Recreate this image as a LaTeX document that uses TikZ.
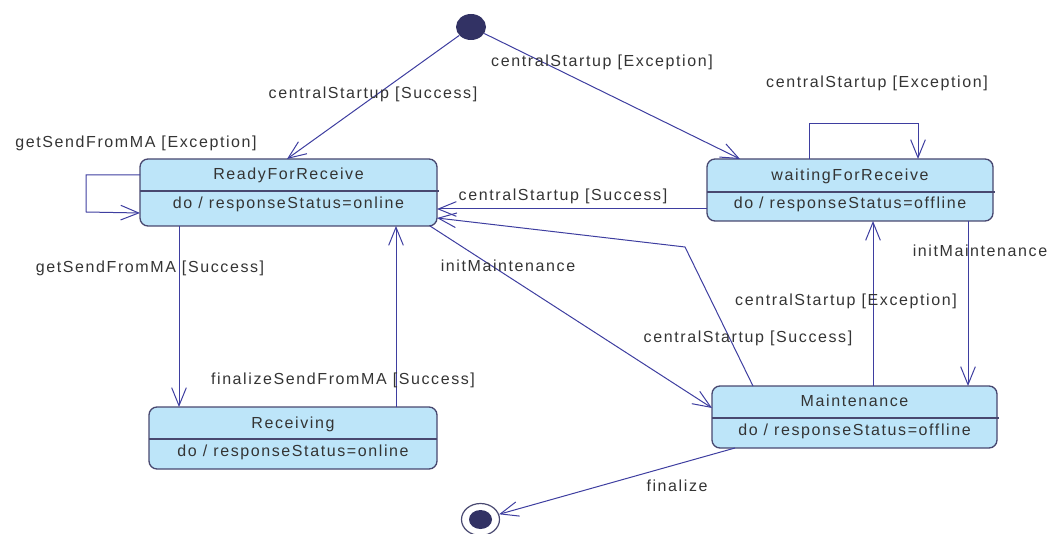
\documentclass[tikz,border=0pt]{standalone}
\usepackage{fontspec}
\setmainfont{Liberation Sans}[LetterSpace=10]
\usetikzlibrary{arrows.meta,calc,shapes.geometric}

\definecolor{edgecol}{RGB}{62,62,160}
\definecolor{boxline}{RGB}{72,72,112}
\definecolor{boxfill}{RGB}{189,229,249}
\definecolor{txtcol}{RGB}{52,52,52}
\definecolor{dotfill}{RGB}{50,50,100}

\begin{document}
\begin{tikzpicture}[x=0.75pt,y=-0.75pt,
  font=\fontsize{12pt}{14pt}\selectfont,
  statebox/.style={draw=boxline,line width=1pt,fill=boxfill,rounded corners=6pt,
    inner sep=0pt,outer sep=0pt},
  txt/.style={text=txtcol,inner sep=0pt,anchor=base},
  lbl/.style={text=txtcol,inner sep=0pt,anchor=base},
  trans/.style={draw=edgecol,line width=0.75pt,
    -{Straight Barb[length=13.5pt,width=11pt,line width=0.75pt]}},
]
\useasboundingbox (0,0) rectangle (1052,534);

% initial and final pseudo-states
\node[ellipse,fill=dotfill,minimum width=30*0.75pt,minimum height=26*0.75pt,inner sep=0pt] (init) at (471,27) {};
\node[ellipse,draw=boxline,line width=0.9pt,fill=white,minimum width=38*0.75pt,minimum height=32*0.75pt,inner sep=0pt] (final) at (480.5,519.5) {};
\node[ellipse,fill=dotfill,minimum width=23*0.75pt,minimum height=19*0.75pt,inner sep=0pt] (finaldot) at (final.center) {};

% states
\node[statebox,minimum width=297*0.75pt,minimum height=67*0.75pt] (ready) at (288.5,192.5) {};
\node[statebox,minimum width=286*0.75pt,minimum height=62*0.75pt] (wait) at (850,190) {};
\node[statebox,minimum width=288*0.75pt,minimum height=62*0.75pt] (recv) at (293,438) {};
\node[statebox,minimum width=285*0.75pt,minimum height=62*0.75pt] (maint) at (854.5,417) {};

% compartment dividers
\draw[boxline,line width=1pt] ($(ready.north west)+(0,32)$) -- ($(ready.north east)+(2,32)$);
\draw[boxline,line width=1pt] ($(wait.north west)+(0,33)$) -- ($(wait.north east)+(2,33)$);
\draw[boxline,line width=1pt] ($(recv.north west)+(0,32)$) -- ($(recv.north east)+(0,32)$);
\draw[boxline,line width=1pt] ($(maint.north west)+(0,32)$) -- ($(maint.north east)+(2,32)$);

% state names and activities
\node[txt] (readyname) at ($(ready.north)+(0,20.5)$) {ReadyForReceive};
\node[txt] (readydo) at ($(ready.north)+(0,49.5)$) {do / responseStatus=online};
\node[txt] (waitname) at ($(wait.north)+(0,21.5)$) {waitingForReceive};
\node[txt] (waitdo) at ($(wait.north)+(0,49.5)$) {do / responseStatus=offline};
\node[txt] (recvname) at ($(recv.north)+(0,21)$) {Receiving};
\node[txt] (recvdo) at ($(recv.north)+(0,49.5)$) {do / responseStatus=online};
\node[txt] (maintname) at ($(maint.north)+(0,20.5)$) {Maintenance};
\node[txt] (maintdo) at ($(maint.north)+(0,49.5)$) {do / responseStatus=offline};

% transitions
\draw[trans] (init) -- ($(ready.north west)+(147,0)$)
  node[lbl] at (373,98.5) {centralStartup [Success]};
\draw[trans] (init) -- ($(wait.north west)+(33,0)$)
  node[lbl] at (602,66.5) {centralStartup [Exception]};
\draw[trans] ($(wait.north west)+(102,0)$) -- ++(0,-35) -| ($(wait.north west)+(211,0)$)
  node[lbl] at (877,87.5) {centralStartup [Exception]};
\draw[trans] ($(ready.north west)+(0,16)$) -- ++(-54,0) -- ++(0,37) -- ($(ready.north west)+(0,54)$)
  node[lbl] at (136,147.5) {getSendFromMA [Exception]};
\draw[trans] ($(wait.north west)+(0,50)$) -- ($(ready.north east)+(0,50)$)
  node[lbl] at (563,200.5) {centralStartup [Success]};
\coordinate (bend) at (685,247);
\draw[trans] ($(maint.north west)+(41,0)$) -- (bend) -- ($(ready.north east)+(0,59)$)
  node[lbl] at (748,342.5) {centralStartup [Success]};
\draw[trans] ($(ready.south east)+(-7,0)$) -- ($(maint.north west)+(0,22)$)
  node[lbl] at (508,271.5) {initMaintenance};
\draw[trans] ($(ready.south west)+(39,0)$) -- ($(recv.north west)+(30,0)$)
  node[lbl] at (150,272.5) {getSendFromMA [Success]};
\draw[trans] ($(recv.north west)+(247,0)$) -- ($(ready.south west)+(256,0)$)
  node[lbl] at (343,384.5) {finalizeSendFromMA [Success]};
\draw[trans] ($(maint.north west)+(161,0)$) -- ($(wait.south west)+(166,0)$)
  node[lbl] at (846,305.5) {centralStartup [Exception]};
\draw[trans] ($(wait.south west)+(261,0)$) -- ($(maint.north west)+(256,0)$)
  node[lbl] at (980,256.5) {initMaintenance};
\draw[trans] ($(maint.south west)+(23,0)$) -- (final)
  node[lbl] at (677,491.5) {finalize};
\end{tikzpicture}
\end{document}
